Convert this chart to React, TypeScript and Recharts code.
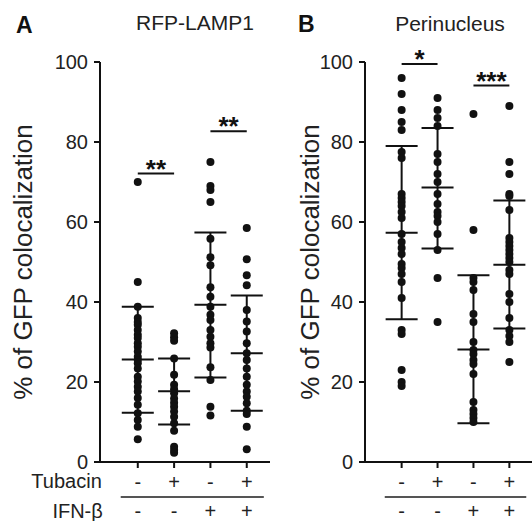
import React from 'react';
import { ScatterChart, Scatter, XAxis, YAxis, ErrorBar, ReferenceLine } from 'recharts';

const groupPositions = [1, 2, 3, 4];
const tubacinRow = ['-', '+', '-', '+'];
const ifnRow = ['-', '-', '+', '+'];
const yTicks = [0, 20, 40, 60, 80, 100];
const yLabelText = '% of GFP colocalization';

// Panel A: RFP-LAMP1
const lampCtrl = [70, 45, 38.8, 36, 35, 34.3, 33, 31.8, 31, 29.7, 28.8, 27.6, 26.3, 25.5, 24.7, 23.4, 21.3, 20.1, 18.8, 17.6, 16, 14.3, 12.2, 10.5, 8.8, 5.7];
const lampTub = [32.2, 31.2, 30.3, 25.9, 21.8, 19.3, 18.2, 17.2, 15.9, 14.8, 13.8, 12.6, 11.3, 9.7, 7.8, 3.8, 3, 2.3];
const lampIfn = [75, 69, 68, 65, 55.8, 51.2, 49.2, 43.7, 41.3, 38.8, 36.8, 35.5, 33, 31.3, 29.7, 28.6, 23.7, 20.5, 13.8, 11.6];
const lampIfnTub = [58.5, 50.7, 46.7, 44.2, 38, 35.1, 32.6, 29.7, 27.2, 25.5, 23.4, 21.3, 19.3, 17.6, 16.3, 14.7, 12.8, 12, 8.8, 3.2];
const lampMean = [25.6, 17.7, 39.3, 27.2];
const lampUpper = [38.8, 25.9, 57.4, 41.6];
const lampLower = [12.3, 9.4, 21.1, 12.8];
const lampSig = [
  { from: 1, to: 2, y: 72.1, label: '**' },
  { from: 3, to: 4, y: 82.7, label: '**' },
];

// Panel B: Perinucleus
const periCtrl = [96, 92, 88, 85, 83, 77.5, 76, 67, 66, 65, 64, 62.5, 61, 57, 55, 53.5, 52, 49.5, 48.5, 47, 45, 41, 33, 32, 23, 20, 19];
const periTub = [91, 88, 86, 84, 77, 75, 72, 70, 67, 64.5, 62.5, 61.5, 60, 57, 53, 46, 35];
const periIfn = [87, 58, 46, 45, 43, 37, 35, 30, 28, 27, 25.5, 24.5, 22, 15, 13, 12, 11, 10];
const periIfnTub = [89, 75, 72, 67, 66.5, 63, 56, 55, 54, 53, 52, 51, 50, 48, 47, 42, 40, 36, 33, 31.5, 30, 25];
const periMean = [57.3, 68.6, 28.1, 49.3];
const periUpper = [79, 83.5, 46.7, 65.4];
const periLower = [35.7, 53.4, 9.7, 33.4];
const periSig = [
  { from: 1, to: 2, y: 99.5, label: '*' },
  { from: 3, to: 4, y: 94.1, label: '***' },
];

const FONT = '"Liberation Sans", Arial, sans-serif';
const INK = '#111';
const TEXT = '#222';

const YLabel = (props: any) => {
  const { viewBox, cxOffset } = props;
  const cx = viewBox.x + cxOffset;
  const cy = viewBox.y + viewBox.height / 2;
  return (
    <text x={cx} y={cy} transform={`rotate(-90 ${cx} ${cy})`} textAnchor="middle" dominantBaseline="central"
      fontSize={26} fontFamily={FONT} fill={TEXT}>{yLabelText}</text>
  );
};

const makeTick = (showRowLabels: boolean) => (props: any) => {
  const { x, y, payload } = props;
  const i = groupPositions.indexOf(payload.value);
  return (
    <g fontFamily={FONT} fontSize={20} fill={TEXT}>
      <text x={x} y={y + 12} textAnchor="middle" dominantBaseline="central" fill={TEXT}>{tubacinRow[i]}</text>
      <text x={x} y={y + 41} textAnchor="middle" dominantBaseline="central" fill={TEXT}>{ifnRow[i]}</text>
      {showRowLabels && i === 0 ? (
        <>
          <text x={x - 36} y={y + 11} textAnchor="end" dominantBaseline="central" fill={TEXT}>Tubacin</text>
          <text x={x - 35} y={y + 41} textAnchor="end" dominantBaseline="central" fill={TEXT}>IFN-β</text>
        </>
      ) : null}
    </g>
  );
};

const dotShape = (p: any) => <circle cx={p.cx} cy={p.cy} r={4} fill={INK} />;
const meanShape = (p: any) => <line x1={p.cx - 16} x2={p.cx + 16} y1={p.cy} y2={p.cy} stroke={INK} strokeWidth={2} />;
const starShape = (p: any) => (
  <text x={p.cx} y={p.cy + 4} textAnchor="middle" fontSize={26} fontWeight="bold" fontFamily={FONT} fill={INK}>{p.payload.label}</text>
);

type PanelProps = {
  left: number; width: number; rightMargin: number; xDomain: [number, number];
  groups: number[][]; means: number[]; upper: number[]; lower: number[];
  sig: { from: number; to: number; y: number; label: string }[];
  showRowLabels: boolean; labelCx: number;
};

function Panel(props: PanelProps) {
  const { left, width, rightMargin, xDomain, groups, means, upper, lower, sig, showRowLabels, labelCx } = props;
  const points = groups.flatMap((vals, i) => vals.map((v) => ({ x: groupPositions[i], y: v })));
  const summary = means.map((m, i) => ({ x: groupPositions[i], y: m, err: [m - lower[i], upper[i] - m] }));
  const sigMarks = sig.map((s) => ({ x: (s.from + s.to) / 2, y: s.y, label: s.label }));
  return (
    <div style={{ position: 'absolute', left, top: 0 }}>
      <ScatterChart width={width} height={521} margin={{ top: 62, right: rightMargin, bottom: 0, left: 0 }}>
        <XAxis type="number" dataKey="x" domain={xDomain} ticks={groupPositions} interval={0}
          tickSize={6} height={59} axisLine={{ stroke: INK, strokeWidth: 2 }} tickLine={{ stroke: INK, strokeWidth: 2 }}
          tick={makeTick(showRowLabels)} />
        <YAxis type="number" dataKey="y" domain={[0, 100]} ticks={yTicks} interval={0} width={100}
          tickSize={6} tickMargin={6} axisLine={{ stroke: INK, strokeWidth: 2 }} tickLine={{ stroke: INK, strokeWidth: 2 }}
          tick={{ fontSize: 20, fill: TEXT, fontFamily: FONT }} label={<YLabel cxOffset={labelCx} />} />
        <ReferenceLine segment={[{ x: 0.53, y: -8.75 }, { x: 4.47, y: -8.75 }]} stroke="#555" strokeWidth={2} ifOverflow="visible" />
        {sig.map((s, k) => (
          <ReferenceLine key={k} segment={[{ x: s.from, y: s.y }, { x: s.to, y: s.y }]} stroke={INK} strokeWidth={2} ifOverflow="visible" />
        ))}
        <Scatter data={points} shape={dotShape} isAnimationActive={false} />
        <Scatter data={summary} shape={meanShape} isAnimationActive={false}>
          <ErrorBar dataKey="err" direction="y" width={16} stroke={INK} strokeWidth={2} />
        </Scatter>
        <Scatter data={sigMarks} shape={starShape} isAnimationActive={false} />
      </ScatterChart>
    </div>
  );
}

export default function App() {
  return (
    <div style={{ position: 'absolute', left: 0, top: 0, width: 532, height: 521, background: '#fff', overflow: 'hidden' }}>
      <svg width={532} height={521} style={{ position: 'absolute', left: 0, top: 0 }}>
        <text x={16} y={33} fontSize={23} fontWeight="bold" fontFamily={FONT} fill={INK}>A</text>
        <text x={195} y={30} fontSize={21} textAnchor="middle" fontFamily={FONT} fill={TEXT}>RFP-LAMP1</text>
        <text x={298} y={32} fontSize={23} fontWeight="bold" fontFamily={FONT} fill={INK}>B</text>
        <text x={450} y={31} fontSize={21} textAnchor="middle" fontFamily={FONT} fill={TEXT}>Perinucleus</text>
      </svg>
      <Panel left={0} width={272} rightMargin={2} xDomain={[-0.04, 4.64]}
        groups={[lampCtrl, lampTub, lampIfn, lampIfnTub]} means={lampMean} upper={lampUpper} lower={lampLower}
        sig={lampSig} showRowLabels={true} labelCx={23} />
      <Panel left={265} width={267} rightMargin={0} xDomain={[-0.02, 4.63]}
        groups={[periCtrl, periTub, periIfn, periIfnTub]} means={periMean} upper={periUpper} lower={periLower}
        sig={periSig} showRowLabels={false} labelCx={45} />
    </div>
  );
}
